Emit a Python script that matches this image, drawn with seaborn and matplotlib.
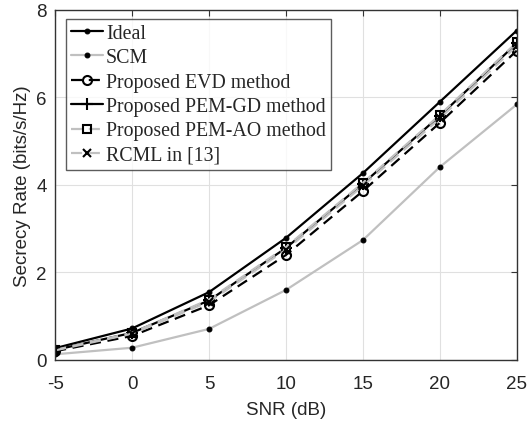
import matplotlib
matplotlib.use("Agg")
import matplotlib.pyplot as plt
import seaborn as sns
import pandas as pd

snr = [-5, 0, 5, 10, 15, 20, 25]
ideal = [0.27, 0.72, 1.55, 2.79, 4.27, 5.90, 7.53]
scm = [0.13, 0.28, 0.71, 1.60, 2.74, 4.41, 5.84]
evd = [0.20, 0.55, 1.25, 2.40, 3.86, 5.42, 7.07]
pem_gd = [0.23, 0.62, 1.36, 2.56, 4.03, 5.58, 7.24]
pem_ao = [0.23, 0.62, 1.38, 2.58, 4.05, 5.60, 7.26]
rcml = [0.22, 0.60, 1.33, 2.52, 3.98, 5.52, 7.18]
labels = ["Ideal", "SCM", "Proposed EVD method", "Proposed PEM-GD method",
          "Proposed PEM-AO method", "RCML in [13]"]

sns.set_style("white")
plt.rcParams['font.family'] = ['Liberation Sans', 'DejaVu Sans']

fig = plt.figure(figsize=(5.3, 4.27), dpi=100)
ax = fig.add_axes([0.104, 0.1546, 0.871, 0.8197])

styles = [
    dict(color="black", lw=1.6, ls="-", marker="o", ms=3.5, mfc="black", mec="black"),
    dict(color="#c0c0c0", lw=1.6, ls="-", marker="o", ms=3.5, mfc="black", mec="black"),
    dict(color="black", lw=1.6, ls=(0, (5, 3)), marker="o", ms=6.5, mfc="none", mec="black", mew=1.5),
    dict(color="black", lw=1.6, ls="-", marker="+", ms=8, mfc="black", mec="black", mew=1.5),
    dict(color="#c0c0c0", lw=1.6, ls=(0, (5, 3)), marker="s", ms=5.5, mfc="none", mec="black", mew=1.5),
    dict(color="#c0c0c0", lw=1.6, ls=(0, (5, 3)), marker="x", ms=5.5, mfc="black", mec="black", mew=1.5),
]
series = [ideal, scm, evd, pem_gd, pem_ao, rcml]
for lab, vals, st in zip(labels, series, styles):
    df = pd.DataFrame({"SNR": snr, "rate": vals})
    sns.lineplot(data=df, x="SNR", y="rate", ax=ax, label=lab, **st)

ax.set_xlim(-5, 25)
ax.set_ylim(0, 8)
ax.set_xticks(snr)
ax.set_xticklabels([str(s) for s in snr])
ax.set_yticks([0, 2, 4, 6, 8])
ax.grid(True, color="#e0e0e0", lw=0.8)
ax.tick_params(direction="in", top=True, right=True, labelsize=13.5, length=4, color="#333333")
ax.tick_params(axis="x", pad=11)
ax.tick_params(axis="y", pad=6)
for s in ax.spines.values():
    s.set_color("#333333")
    s.set_linewidth(1.0)
ax.set_xlabel("SNR (dB)", fontsize=13.5, labelpad=6)
ax.set_ylabel("Secrecy Rate (bits/s/Hz)", fontsize=13.5)

leg = ax.legend(loc="upper left", prop={"family": "Liberation Serif", "size": 14.3},
                frameon=True, fancybox=False, edgecolor="#333333", handlelength=1.6,
                handletextpad=0.15, labelspacing=0.27, borderpad=0.25, borderaxespad=0,
                bbox_to_anchor=(0.024, 0.974))
leg.get_frame().set_linewidth(1.0)

fig.savefig("out.png", dpi=100)
